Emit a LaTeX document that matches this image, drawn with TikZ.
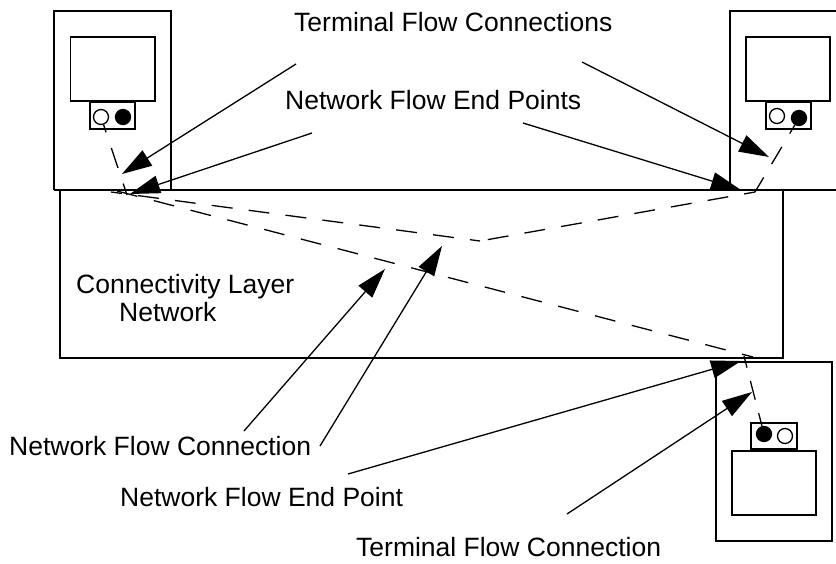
\documentclass[tikz,border=0pt]{standalone}
\usepackage{fontspec}
\setmainfont{Liberation Sans}
\usetikzlibrary{arrows.meta}
\tikzset{
  x=1pt,y=-1pt,
  box/.style={draw=black,line width=1.3pt,fill=white,inner sep=0pt},
  port/.style={circle,draw=black,line width=1.3pt,fill=white,minimum size=15pt,inner sep=0pt},
  portfull/.style={port,fill=black},
  flow/.style={line width=1.3pt,dash pattern=on 21pt off 16.2pt},
  callout/.style={line width=1.3pt,-{Triangle[length=30pt,width=18pt]}},
  lbl/.style={font=\fontsize{26.5pt}{30pt}\selectfont,inner sep=0pt,anchor=base west},
}
\begin{document}
\begin{tikzpicture}
\useasboundingbox (0,0) rectangle (836,563);
% left terminal
\draw[line width=1.3pt] (54,190) -- (54,11) -- (171,11) -- (171,190);
\draw[box] (70.5,37) rectangle (155,101);
\draw[box] (90,102) rectangle (135,129);
\node[port] (la) at (101,117) {};
\node[portfull] (lb) at (123,117) {};
% right terminal
\draw[line width=1.3pt] (730,190) -- (730,11) -- (836,11);
\draw[box] (746,37) rectangle (830,101);
\draw[box] (766,102) rectangle (811,129);
\node[port] (ra) at (777,116) {};
\node[portfull] (rb) at (799,118) {};
% bottom terminal
\draw[line width=1.3pt] (716,362) -- (716,541) -- (832,541) -- (832,362) -- cycle;
\draw[box] (732,451) rectangle (816,515);
\draw[box] (751,423) rectangle (797,449);
\node[portfull] (ba) at (764,434) {};
\node[port] (bb) at (785,436) {};
% network
\draw[line width=1.3pt] (60,190) -- (60,358) -- (783,358) -- (783,190);
\draw[line width=1.3pt] (54,190) -- (836,190);
% flows
\coordinate (tl) at (127,195);
\coordinate (ul) at (111,192);
\coordinate (ll) at (117,191);
\coordinate (nm) at (480,241);
\coordinate (nr) at (755,192);
\coordinate (nb) at (744,356);
\coordinate (le) at (753,357);
\draw[flow,dash pattern=on 21pt off 16.5pt,dash phase=13pt] (la) -- (tl);
\draw[flow,dash phase=10pt] (ul) -- (nm);
\draw[flow,dash phase=10pt] (nr) -- (nm);
\draw[flow,dash pattern=on 20pt off 15.5pt,dash phase=3pt] (nr) -- (rb);
\draw[flow,dash pattern=on 21pt off 17pt] (ll) -- (le);
\draw[flow,dash pattern=on 19pt off 14pt,dash phase=7pt] (nb) -- (ba);
% labels
\node[lbl] (t1) at (294,31) {Terminal Flow Connections};
\node[lbl] (t2) at (285,109) {Network Flow End Points};
\node[lbl] (t3) at (76,293) {Connectivity Layer};
\node[lbl] (t4) at (119,321) {Network};
\node[lbl] (t5) at (9,455) {Network Flow Connection};
\node[lbl] (t6) at (120,506) {Network Flow End Point};
\node[lbl] (t7) at (356,556) {Terminal Flow Connection};
% callouts
\coordinate (c1) at (296,64);
\coordinate (c2) at (582,62);
\coordinate (c3) at (312,133);
\coordinate (c4) at (523,123);
\coordinate (c5) at (244,431);
\coordinate (c6) at (320,446);
\coordinate (c7) at (348,474);
\coordinate (c8) at (567,514);
\coordinate (h1) at (122,174);
\coordinate (h2) at (769,157);
\coordinate (h3) at (130,194);
\coordinate (h4) at (741,190);
\coordinate (h5) at (385,269);
\coordinate (h6) at (442,246);
\coordinate (h7) at (741,361);
\coordinate (h8) at (752,392);
\draw[callout] (c1) -- (h1);
\draw[callout] (c2) -- (h2);
\draw[callout] (c3) -- (h3);
\draw[callout] (c4) -- (h4);
\draw[callout] (c5) -- (h5);
\draw[callout] (c6) -- (h6);
\draw[callout] (c7) -- (h7);
\draw[callout] (c8) -- (h8);
\end{tikzpicture}
\end{document}
